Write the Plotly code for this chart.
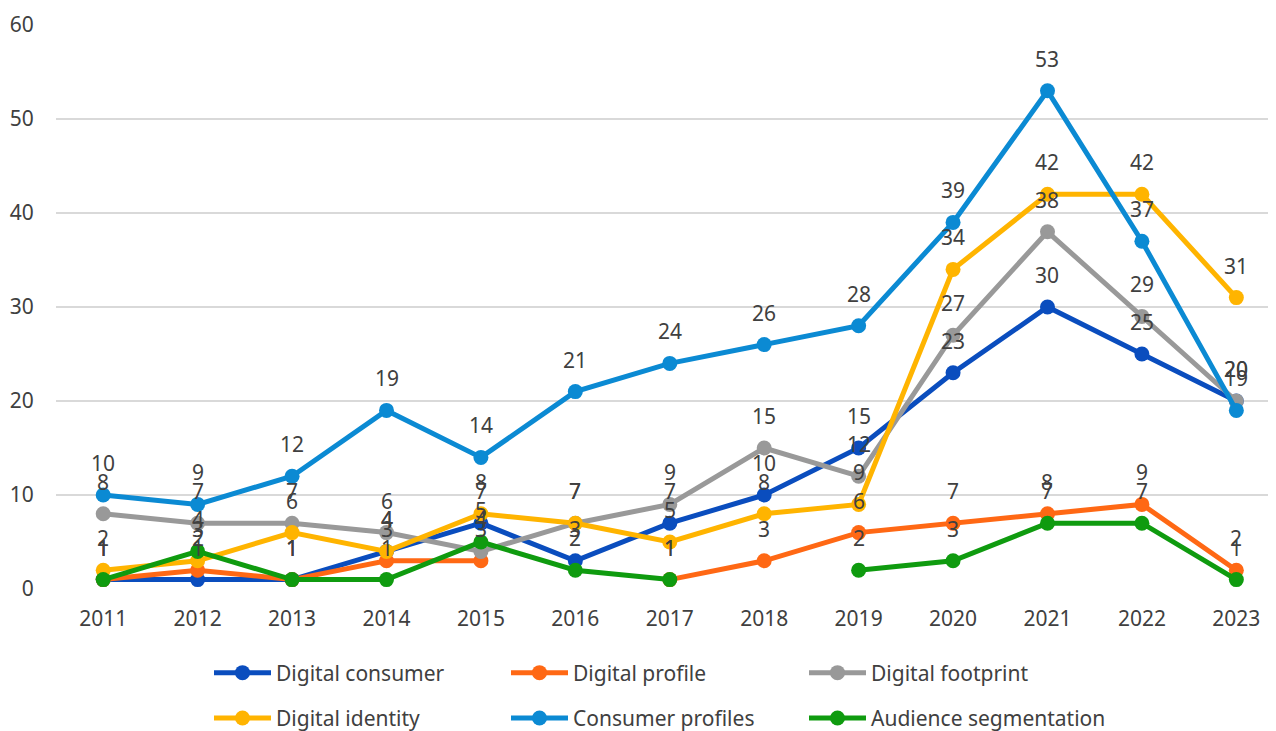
import plotly.graph_objects as go

years = ["2011", "2012", "2013", "2014", "2015", "2016", "2017",
         "2018", "2019", "2020", "2021", "2022", "2023"]

digital_consumer = [1, 1, 1, 4, 7, 3, 7, 10, 15, 23, 30, 25, 20]
digital_profile = [1, 2, 1, 3, 3, None, 1, 3, 6, 7, 8, 9, 2]
digital_footprint = [8, 7, 7, 6, 4, 7, 9, 15, 12, 27, 38, 29, 20]
digital_identity = [2, 3, 6, 4, 8, 7, 5, 8, 9, 34, 42, 42, 31]
consumer_profiles = [10, 9, 12, 19, 14, 21, 24, 26, 28, 39, 53, 37, 19]
audience_segmentation = [1, 4, 1, 1, 5, 2, 1, None, 2, 3, 7, 7, 1]

# legend column for each series (legend grid: 3 columns x 2 rows)
series = [
    ("Digital consumer", digital_consumer, "#0A4DBE", "legend"),
    ("Digital profile", digital_profile, "#FF6814", "legend2"),
    ("Digital footprint", digital_footprint, "#999999", "legend3"),
    ("Digital identity", digital_identity, "#FFB400", "legend"),
    ("Consumer profiles", consumer_profiles, "#0B8AD3", "legend2"),
    ("Audience segmentation", audience_segmentation, "#0F9B0F", "legend3"),
]

FONT = "Noto Sans, Open Sans, sans-serif"
TXT = "#404040"
FS = 21

# page body has an 8px margin; the figure is sized to fill the rest
W, H = 1268, 723
ML, MT, MB = 48, 17, 142
PLOT_W = W - ML
PLOT_H = H - MT - MB

fig = go.Figure()
annotations = []
for name, vals, color, leg in series:
    fig.add_trace(go.Scatter(
        x=years, y=vals, name=name, mode="lines+markers",
        line=dict(color=color, width=5),
        marker=dict(color=color, size=15),
        legend=leg, legendgroup=name,
    ))
    # category axis: annotation x given as category serial number
    for idx, v in enumerate(vals):
        if v is None:
            continue
        annotations.append(dict(
            x=idx, y=v, xref="x", yref="y", text=str(v), showarrow=False,
            xanchor="center", yanchor="middle", yshift=32,
            font=dict(family=FONT, size=FS, color=TXT),
        ))

legend_common = dict(
    orientation="v", xanchor="left", yanchor="middle",
    y=-106.5 / PLOT_H,
    font=dict(family=FONT, size=FS, color=TXT),
    itemwidth=57, tracegroupgap=15,
    bgcolor="rgba(0,0,0,0)",
    traceorder="grouped",
)

fig.update_layout(
    width=W, height=H,
    margin=dict(l=ML, r=0, t=MT, b=MB, autoexpand=False),
    plot_bgcolor="white", paper_bgcolor="white",
    showlegend=True,
    legend=dict(x=153 / PLOT_W, **legend_common),
    legend2=dict(x=450 / PLOT_W, **legend_common),
    legend3=dict(x=748 / PLOT_W, **legend_common),
    annotations=annotations,
    xaxis=dict(
        type="category", range=[-0.5, 12.42], automargin=False,
        showgrid=False, zeroline=False, showline=False,
        ticks="outside", ticklen=11, tickcolor="rgba(0,0,0,0)",
        tickfont=dict(family=FONT, size=FS, color=TXT),
    ),
    yaxis=dict(
        range=[0, 60], dtick=10, automargin=False,
        showgrid=True, gridcolor="#D9D9D9", gridwidth=1.5,
        zeroline=False, showline=False,
        ticks="outside", ticklen=17, tickcolor="rgba(0,0,0,0)",
        tickfont=dict(family=FONT, size=FS, color=TXT),
    ),
)

fig.write_html("out.html")
